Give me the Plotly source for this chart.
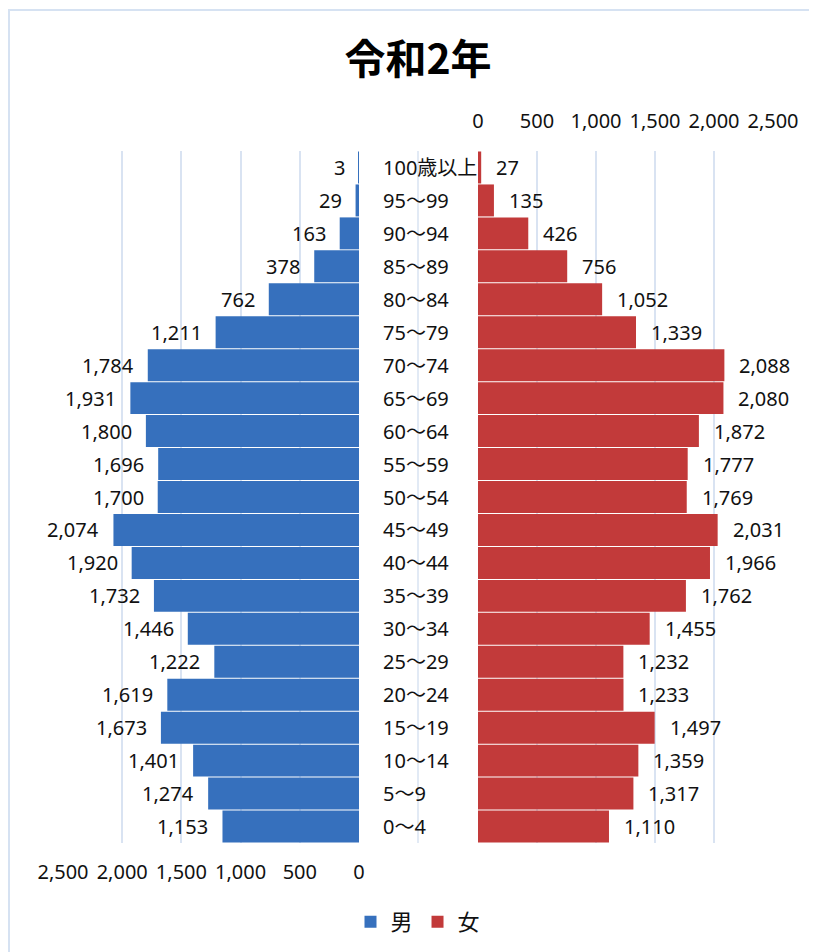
import plotly.graph_objects as go

categories = ["0〜4", "5〜9", "10〜14", "15〜19", "20〜24", "25〜29", "30〜34",
              "35〜39", "40〜44", "45〜49", "50〜54", "55〜59", "60〜64", "65〜69",
              "70〜74", "75〜79", "80〜84", "85〜89", "90〜94", "95〜99", "100歳以上"]
male = [1153, 1274, 1401, 1673, 1619, 1222, 1446, 1732, 1920, 2074, 1700,
        1696, 1800, 1931, 1784, 1211, 762, 378, 163, 29, 3]
female = [1110, 1317, 1359, 1497, 1233, 1232, 1455, 1762, 1966, 2031, 1769,
          1777, 1872, 2080, 2088, 1339, 1052, 756, 426, 135, 27]
tick_vals = [0, 500, 1000, 1500, 2000, 2500]
tick_text = ["0", "500", "1,000", "1,500", "2,000", "2,500"]
title_text = "令和2年"

# page body has an 8px default margin; lay out in screen pixels
OX, OY = 8, 8
W, H = 817 - OX, 952 - OY
PLOT_TOP, PLOT_BOT = 151, 843          # screen px
MT = PLOT_TOP - OY
MB = H - (PLOT_BOT - OY)
PH = PLOT_BOT - PLOT_TOP


def px(sx):
    return (sx - OX) / W


def py(sy):
    return (PLOT_BOT - sy) / PH


FONT = "Noto Sans, Noto Sans CJK JP, sans-serif"
GRID = "#d9e3f2"
BLUE = "#3670bd"
RED = "#c23a3a"

ypos = list(range(len(categories)))

fig = go.Figure()
fig.add_trace(go.Bar(x=male, y=ypos, orientation="h", name="男",
                     marker=dict(color=BLUE, line=dict(width=0)),
                     xaxis="x", yaxis="y"))
fig.add_trace(go.Bar(x=female, y=ypos, orientation="h", name="女",
                     marker=dict(color=RED, line=dict(width=0)),
                     xaxis="x2", yaxis="y"))

ann = []
for i, (m, f) in enumerate(zip(male, female)):
    ann.append(dict(x=m, y=i, xref="x", yref="y", text=f"{m:,}", showarrow=False,
                    xanchor="right", xshift=-12, font=dict(size=20, color="#111", family=FONT)))
    ann.append(dict(x=f, y=i, xref="x2", yref="y", text=f"{f:,}", showarrow=False,
                    xanchor="left", xshift=13, font=dict(size=20, color="#111", family=FONT)))
    ann.append(dict(x=px(381), y=i, xref="paper", yref="y", text=categories[i], showarrow=False,
                    xanchor="left", font=dict(size=20, color="#111", family=FONT)))

shapes = [
    dict(type="line", xref="paper", yref="paper", x0=px(418), x1=px(418), y0=0, y1=1.0,
         line=dict(color=GRID, width=1.5), layer="below"),
    dict(type="rect", xref="paper", yref="paper", x0=px(9), x1=px(840),
         y0=py(990), y1=py(10), line=dict(color="#d6e2f2", width=2), layer="below"),
]

fig.update_layout(
    width=W, height=H,
    margin=dict(l=0, r=0, t=MT, b=MB, autoexpand=False),
    paper_bgcolor="white", plot_bgcolor="white",
    title=dict(text=f"<b>{title_text}</b>", x=px(418), xanchor="center", y=1 - (60 - OY) / H,
               yanchor="middle",
               font=dict(size=41, color="#000", family="Noto Sans CJK JP, sans-serif")),
    barmode="overlay", bargap=0.03,
    xaxis=dict(domain=[px(63), px(359)], range=[2500, 0], tickvals=tick_vals, ticktext=tick_text,
               side="bottom", showgrid=True, gridcolor=GRID, gridwidth=1.5, zeroline=False,
               showline=False, ticks="", ticklabelstandoff=15, automargin=False,
               tickfont=dict(size=20, color="#111", family=FONT), anchor="y", fixedrange=True),
    xaxis2=dict(domain=[px(478), px(773)], range=[0, 2500], tickvals=tick_vals, ticktext=tick_text,
                side="top", showgrid=True, gridcolor=GRID, gridwidth=1.5, zeroline=False,
                showline=False, ticks="", ticklabelstandoff=18, automargin=False,
                tickfont=dict(size=20, color="#111", family=FONT), anchor="y", fixedrange=True),
    yaxis=dict(range=[-0.5, len(categories) - 0.5], showticklabels=False, showgrid=False,
               zeroline=False, showline=False, ticks="", fixedrange=True, automargin=False),
    legend=dict(orientation="h", x=px(418), xanchor="center", y=py(922), yanchor="middle",
                font=dict(size=22, color="#111", family="Noto Sans CJK JP, sans-serif"),
                itemwidth=30, traceorder="normal"),
    annotations=ann, shapes=shapes,
)

fig.write_html("out.html")
